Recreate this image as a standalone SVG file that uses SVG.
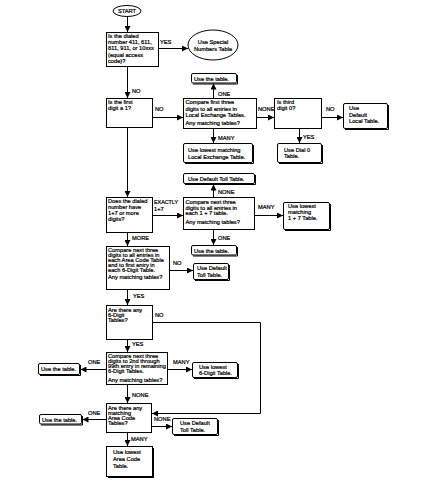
<svg xmlns="http://www.w3.org/2000/svg" width="422" height="489" viewBox="0 0 422 489">
<style>
.b{fill:#fff;stroke:#000;stroke-width:1}
.r{fill:#fff;stroke:#000;stroke-width:1}
.sh{fill:none;stroke:#000;stroke-width:1}
.c{fill:none;stroke:#000;stroke-width:1}
.t{font-family:"Liberation Sans",Arial,sans-serif;font-size:5.7px;fill:#000;stroke:#000;stroke-width:0.22px}
.m{text-anchor:middle}
</style>
<defs>
<marker id="a" markerUnits="userSpaceOnUse" viewBox="0 0 6 6" markerWidth="6" markerHeight="6" refX="6" refY="3" orient="auto">
<path d="M0,0 L6,3 L0,6 z" fill="#000"/>
</marker>
</defs>
<rect width="422" height="489" fill="#fff"/>

<g id="connectors">
<path class="c" d="M127.5,16.5 V32" marker-end="url(#a)"/>
<path class="c" d="M158,48.5 H188" marker-end="url(#a)"/>
<path class="c" d="M127.5,67 V98" marker-end="url(#a)"/>
<path class="c" d="M152,117.5 H183" marker-end="url(#a)"/>
<path class="c" d="M213.5,98 V83.5" marker-end="url(#a)"/>
<path class="c" d="M213.5,129 V143" marker-end="url(#a)"/>
<path class="c" d="M257,117.5 H274" marker-end="url(#a)"/>
<path class="c" d="M322,117.5 H343" marker-end="url(#a)"/>
<path class="c" d="M299.5,129 V143" marker-end="url(#a)"/>
<path class="c" d="M127.5,128 V197" marker-end="url(#a)"/>
<path class="c" d="M152,215.5 H183" marker-end="url(#a)"/>
<path class="c" d="M213.5,197 V184.5" marker-end="url(#a)"/>
<path class="c" d="M213.5,230 V245" marker-end="url(#a)"/>
<path class="c" d="M255,215.5 H283" marker-end="url(#a)"/>
<path class="c" d="M127.5,233 V246" marker-end="url(#a)"/>
<path class="c" d="M170,270.5 H193" marker-end="url(#a)"/>
<path class="c" d="M127.5,290 V305" marker-end="url(#a)"/>
<path class="c" d="M127.5,340 V352" marker-end="url(#a)"/>
<path class="c" d="M106,369.5 H80.5" marker-end="url(#a)"/>
<path class="c" d="M168,369.5 H192" marker-end="url(#a)"/>
<path class="c" d="M127.5,385 V403" marker-end="url(#a)"/>
<path class="c" d="M106,419.5 H82.5" marker-end="url(#a)"/>
<path class="c" d="M152,426.5 H172" marker-end="url(#a)"/>
<path class="c" d="M127.5,433 V446" marker-end="url(#a)"/>
<path class="c" d="M152,322.5 H260.5 V413.5 H152" marker-end="url(#a)"/>
<text class="t" x="160" y="44">YES</text>
<text class="t" x="132" y="93">NO</text>
<text class="t" x="155" y="111">NO</text>
<text class="t" x="218" y="96">ONE</text>
<text class="t" x="218" y="140">MANY</text>
<text class="t" x="258" y="111">NONE</text>
<text class="t" x="326" y="111">NO</text>
<text class="t" x="303" y="139">YES</text>
<text class="t" x="154" y="204" textLength="24" lengthAdjust="spacingAndGlyphs">EXACTLY</text>
<text class="t" x="154" y="211">1+7</text>
<text class="t" x="218" y="194">NONE</text>
<text class="t" x="218" y="240">ONE</text>
<text class="t" x="258" y="209">MANY</text>
<text class="t" x="132" y="240">MORE</text>
<text class="t" x="173" y="265">NO</text>
<text class="t" x="133" y="298">YES</text>
<text class="t" x="155" y="317">NO</text>
<text class="t" x="132" y="345.5">YES</text>
<text class="t" x="88" y="364">ONE</text>
<text class="t" x="173" y="364">MANY</text>
<text class="t" x="132" y="397">NONE</text>
<text class="t" x="88" y="415">ONE</text>
<text class="t" x="154" y="421">NONE</text>
<text class="t" x="131" y="441">MANY</text>
</g>

<g id="start">
<ellipse class="b" cx="127" cy="11" rx="14" ry="5.5"/>
<text class="t m" x="127" y="13">START</text>
</g>

<g id="q1">
<rect class="b" x="106.5" y="32.5" width="52" height="34"/>
<text class="t" x="108" y="38">Is the dialed</text>
<text class="t" x="108" y="44.2">number 411, 611,</text>
<text class="t" x="108" y="50.4">811, 911, or 10xxx</text>
<text class="t" x="108" y="56.6">(equal access</text>
<text class="t" x="108" y="62.8">code)?</text>
</g>

<g id="special">
<ellipse class="b" cx="213" cy="45" rx="25" ry="15"/>
<text class="t m" x="213" y="44">Use Special</text>
<text class="t m" x="213" y="50.5">Numbers Table</text>
</g>

<g id="q2">
<rect class="b" x="106.5" y="98.5" width="46" height="29"/>
<text class="t" x="108" y="104">Is the first</text>
<text class="t" x="108" y="110">digit a 1?</text>
</g>

<g id="c1">
<rect class="b" x="183.5" y="98.5" width="73" height="30"/>
<text class="t" x="185.5" y="104">Compare first three</text>
<text class="t" x="185.5" y="110.5">digits to all entries in</text>
<text class="t" x="185.5" y="117">Local Exchange Tables.</text>
<text class="t" x="185.5" y="125">Any matching tables?</text>
</g>

<g id="use1">
<rect class="r" x="191.5" y="73.5" width="45" height="9.5" rx="1.5"/>
<path class="sh" d="M237.5,75 V84 H193"/>
<text class="t" x="194" y="80.5">Use the table.</text>
</g>

<g id="lowestLocal">
<rect class="r" x="183.5" y="143.5" width="69" height="19" rx="1.5"/>
<path class="sh" d="M253.5,145 V163.5 H185"/>
<text class="t" x="188" y="151.5">Use lowest matching</text>
<text class="t" x="188" y="158.5">Local Exchange Table.</text>
</g>

<g id="q3">
<rect class="b" x="274.5" y="98.5" width="47" height="30"/>
<text class="t" x="277" y="104">Is third</text>
<text class="t" x="277" y="110">digit 0?</text>
</g>

<g id="defaultLocal">
<rect class="r" x="343.5" y="103.5" width="44" height="25" rx="1.5"/>
<path class="sh" d="M388.5,105 V129.5 H345"/>
<text class="t" x="349" y="110">Use</text>
<text class="t" x="349" y="116.5">Default</text>
<text class="t" x="349" y="123">Local Table.</text>
</g>

<g id="dial0">
<rect class="r" x="277.5" y="143.5" width="44" height="19" rx="1.5"/>
<path class="sh" d="M322.5,145 V163.5 H279"/>
<text class="t" x="284" y="151.5">Use Dial 0</text>
<text class="t" x="284" y="158">Table.</text>
</g>

<g id="q4">
<rect class="b" x="106.5" y="197.5" width="46" height="35"/>
<text class="t" x="108" y="203">Does the dialed</text>
<text class="t" x="108" y="209">number have</text>
<text class="t" x="108" y="215">1+7 or more</text>
<text class="t" x="108" y="221">digits?</text>
</g>

<g id="c2">
<rect class="b" x="183.5" y="197.5" width="71" height="32"/>
<text class="t" x="185.5" y="204">Compare next three</text>
<text class="t" x="185.5" y="209.5">digits to all entries in</text>
<text class="t" x="185.5" y="215">each 1 + 7 table.</text>
<text class="t" x="185.5" y="224">Any matching tables?</text>
</g>

<g id="defaultToll1">
<rect class="r" x="183.5" y="173.5" width="71" height="10" rx="1.5"/>
<path class="sh" d="M255.5,175 V184.5 H185"/>
<text class="t" x="188" y="181">Use Default Toll Table.</text>
</g>

<g id="use2">
<rect class="r" x="191.5" y="245.5" width="45" height="9.5" rx="1.5"/>
<path class="sh" d="M237.5,247 V256 H193"/>
<text class="t" x="194" y="252.5">Use the table.</text>
</g>

<g id="lowest17">
<rect class="r" x="283.5" y="202.5" width="46" height="27" rx="1.5"/>
<path class="sh" d="M330.5,204 V230.5 H285"/>
<text class="t" x="288" y="208">Use lowest</text>
<text class="t" x="288" y="214">matching</text>
<text class="t" x="288" y="220">1 + 7 Table.</text>
</g>

<g id="c3">
<rect class="b" x="106.5" y="246.5" width="63" height="43"/>
<text class="t" x="108" y="251.5">Compare next three</text>
<text class="t" x="108" y="256.7">digits to all entries in</text>
<text class="t" x="108" y="261.9">each Area Code Table</text>
<text class="t" x="108" y="267.1">and to first entry in</text>
<text class="t" x="108" y="272.3">each 6-Digit Table.</text>
<text class="t" x="108" y="279">Any matching tables?</text>
</g>

<g id="defaultToll2">
<rect class="r" x="193.5" y="263.5" width="35" height="16" rx="1.5"/>
<path class="sh" d="M229.5,265 V280.5 H195"/>
<text class="t" x="197" y="270">Use Default</text>
<text class="t" x="197" y="276.5">Toll Table.</text>
</g>

<g id="q5">
<rect class="b" x="106.5" y="305.5" width="46" height="34"/>
<text class="t" x="108" y="311.5">Are there any</text>
<text class="t" x="108" y="316.5">6-Digit</text>
<text class="t" x="108" y="321.5">Tables?</text>
</g>

<g id="c4">
<rect class="b" x="106.5" y="352.5" width="61" height="32"/>
<text class="t" x="108" y="357.5">Compare next three</text>
<text class="t" x="108" y="362.7">digits to 2nd through</text>
<text class="t" x="108" y="367.9">99th entry in remaining</text>
<text class="t" x="108" y="373.1">6-Digit Tables.</text>
<text class="t" x="108" y="382">Any matching tables?</text>
</g>

<g id="use3">
<rect class="r" x="38.5" y="363.5" width="41" height="11" rx="1.5"/>
<path class="sh" d="M80.5,365 V375.5 H40"/>
<text class="t" x="41" y="371">Use the table.</text>
</g>

<g id="lowest6">
<rect class="r" x="192.5" y="362.5" width="45" height="15" rx="1.5"/>
<path class="sh" d="M238.5,364 V378.5 H194"/>
<text class="t" x="199" y="368.5">Use lowest</text>
<text class="t" x="199" y="375">6-Digit Table.</text>
</g>

<g id="q6">
<rect class="b" x="106.5" y="403.5" width="45" height="29"/>
<text class="t" x="108" y="409.5">Are there any</text>
<text class="t" x="108" y="414.5">matching</text>
<text class="t" x="108" y="419.5">Area Code</text>
<text class="t" x="108" y="424.5">Tables?</text>
</g>

<g id="use4">
<rect class="r" x="39.5" y="414.5" width="42" height="9.5" rx="1.5"/>
<path class="sh" d="M82.5,416 V425 H41"/>
<text class="t" x="42" y="421.5">Use the table.</text>
</g>

<g id="defaultToll3">
<rect class="r" x="172.5" y="418.5" width="45" height="16" rx="1.5"/>
<path class="sh" d="M218.5,420 V435.5 H174"/>
<text class="t" x="180" y="425">Use Default</text>
<text class="t" x="180" y="431.5">Toll Table.</text>
</g>

<g id="lowestArea">
<rect class="b" x="106.5" y="446.5" width="46" height="30"/>
<path class="sh" d="M153.5,448 V477.5 H108"/>
<text class="t" x="113" y="454">Use lowest</text>
<text class="t" x="113" y="461">Area Code</text>
<text class="t" x="113" y="468">Table.</text>
</g>
</svg>
